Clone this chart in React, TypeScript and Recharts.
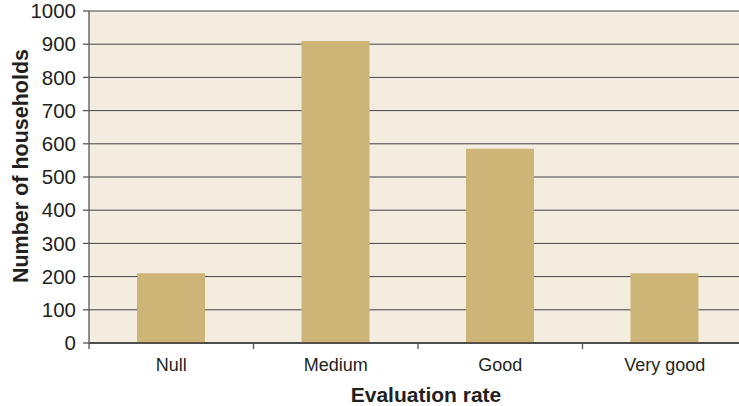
import { BarChart, Bar, XAxis, YAxis, CartesianGrid, Label } from "recharts";

const categories = ["Null", "Medium", "Good", "Very good"];
const households = [210, 910, 585, 210];
const yTicks = [0, 100, 200, 300, 400, 500, 600, 700, 800, 900, 1000];

const data = categories.map((rate, i) => ({ rate, households: households[i] }));

const FONT = '"Liberation Sans", Arial, Helvetica, sans-serif';
const INK = "#231f20";

// category label centred in its band, with a tick mark on the band's left edge
function RateTick(props: any) {
  const { x, y, payload } = props;
  const half = payload?.offset ?? 82.25;
  return (
    <g>
      <line x1={x - half} x2={x - half} y1={y} y2={y + 6} stroke="#555" strokeWidth={1.3} />
      <text x={x} y={y + 28} textAnchor="middle" fontSize={18} fontFamily={FONT} fill={INK}>
        {payload.value}
      </text>
    </g>
  );
}

export default function App() {
  return (
    <div style={{ position: "absolute", left: 0, top: 0, width: 739, height: 406, overflow: "hidden", background: "#fff" }}>
      <BarChart
        width={760}
        height={406}
        data={data}
        margin={{ top: 11, right: 13, left: 0, bottom: 0 }}
        barSize={68}
      >
        <CartesianGrid vertical={false} fill="#f3ede0" stroke="#444" strokeWidth={1} />
        <XAxis
          dataKey="rate"
          height={63}
          tickSize={0}
          tickMargin={0}
          tickLine={false}
          axisLine={{ stroke: "#333", strokeWidth: 1.3 }}
          tick={<RateTick />}
          interval={0}
        >
          <Label
            content={() => (
              <text x={426} y={401.5} textAnchor="middle" fontSize={21} fontWeight="bold" fontFamily={FONT} fill={INK}>
                Evaluation rate
              </text>
            )}
          />
        </XAxis>
        <YAxis
          width={89}
          domain={[0, 1000]}
          ticks={yTicks}
          interval={0}
          tickSize={6}
          tickMargin={7}
          tickLine={{ stroke: "#555", strokeWidth: 1.3 }}
          axisLine={{ stroke: "#555", strokeWidth: 1.3 }}
          tick={{ fontSize: 20.5, fontFamily: FONT, fill: INK }}
        >
          <Label
            content={() => (
              <text
                x={20.5}
                y={166}
                transform="rotate(-90, 20.5, 166)"
                textAnchor="middle"
                dominantBaseline="central"
                fontSize={21.5}
                fontWeight="bold"
                fontFamily={FONT}
                fill={INK}
              >
                Number of households
              </text>
            )}
          />
        </YAxis>
        <Bar dataKey="households" fill="#cdb578" isAnimationActive={false} />
      </BarChart>
    </div>
  );
}
